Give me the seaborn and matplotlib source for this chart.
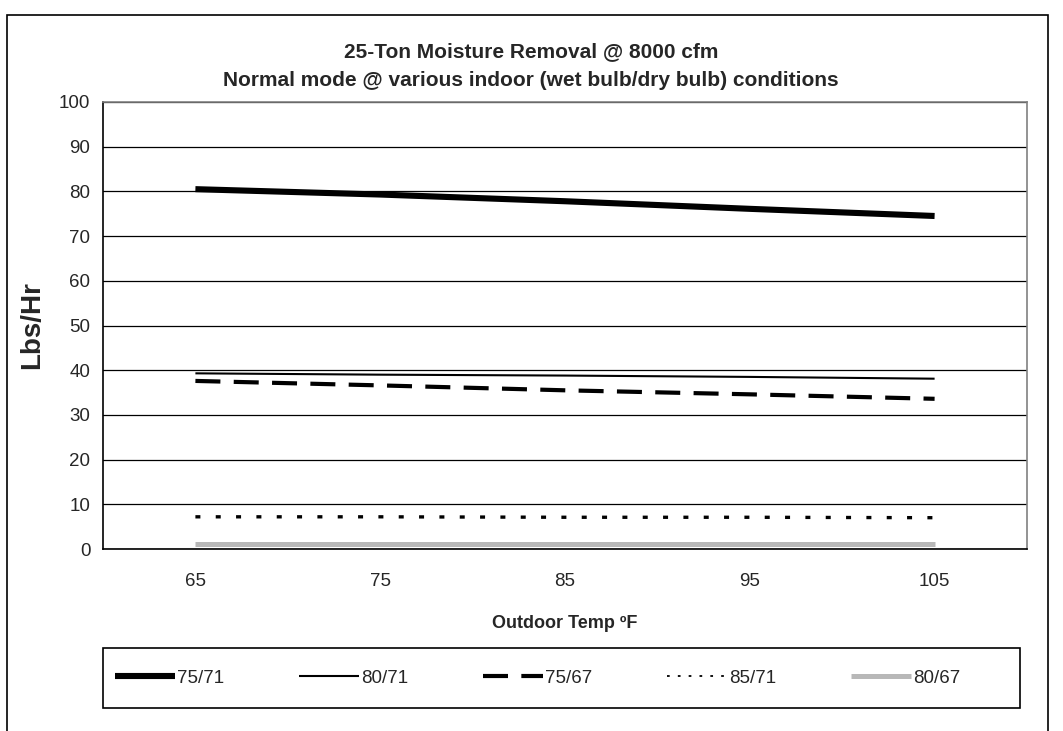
import matplotlib
matplotlib.use("Agg")
import matplotlib.pyplot as plt
import matplotlib.patches as mpatches
import numpy as np
import pandas as pd
import seaborn as sns

# Outdoor temperatures (category axis)
outdoor_temp = ["65", "75", "85", "95", "105"]

# Moisture removal (lbs/hr) per indoor condition (wet bulb / dry bulb)
rh_75_71 = [80.5, 79.3, 77.8, 76.1, 74.5]
rh_80_71 = [39.3, 39.0, 38.8, 38.5, 38.1]
rh_75_67 = [37.6, 36.6, 35.5, 34.6, 33.6]
rh_85_71 = [7.2, 7.2, 7.1, 7.1, 7.0]
rh_80_67 = [1.1, 1.1, 1.1, 1.1, 1.1]

series_names = ["75/71", "80/71", "75/67", "85/71", "80/67"]
series_values = [rh_75_71, rh_80_71, rh_75_67, rh_85_71, rh_80_67]

styles = {
    "75/71": dict(color="black", lw=4.4, ls="-"),
    "80/71": dict(color="black", lw=1.5, ls="-"),
    "75/67": dict(color="black", lw=3.0, ls=(0, (6.0, 3.2))),
    "85/71": dict(color="black", lw=2.4, ls=(0, (1.5, 4.6))),
    "80/67": dict(color="#b8b8b8", lw=3.6, ls="-"),
}

sns.set_theme(style="white")
plt.rcParams["font.family"] = ["Liberation Sans", "DejaVu Sans"]

W, H = 1063, 731
fig = plt.figure(figsize=(W / 100, H / 100), dpi=100)
ax = fig.add_axes([103 / W, 1 - 549 / H, (1027 - 103) / W, (549 - 102) / H])

pos = np.arange(len(outdoor_temp))
for name, vals in zip(series_names, series_values):
    df = pd.DataFrame({"pos": pos, "val": vals})
    st = styles[name]
    sns.lineplot(data=df, x="pos", y="val", ax=ax, color=st["color"],
                 linewidth=st["lw"], linestyle=st["ls"], label=name,
                 legend=False, solid_capstyle="butt", dash_capstyle="butt")

ax.set_xlim(-0.5, len(outdoor_temp) - 0.5)
ax.set_ylim(0, 100)
ax.set_yticks(np.arange(0, 101, 10))
ax.yaxis.grid(True, color="black", linewidth=0.9)
ax.xaxis.grid(False)

# Category labels centred, tick marks on category boundaries
ax.set_xticks(pos)
ax.set_xticklabels(outdoor_temp, fontsize=13.5)
ax.tick_params(axis="x", which="major", length=0, pad=17)
ax.set_xticks(np.arange(-0.5, len(outdoor_temp)), minor=True)
ax.tick_params(axis="x", which="minor", length=6, width=1, color="black", direction="out")
ax.tick_params(axis="y", length=5, width=1, color="black", direction="out", labelsize=13.5, pad=4)

for side in ["left", "bottom"]:
    ax.spines[side].set_color("black")
    ax.spines[side].set_linewidth(1.2)
for side in ["top", "right"]:
    ax.spines[side].set_color("#808080")
    ax.spines[side].set_linewidth(1.2)

ax.set_xlabel("Outdoor Temp ºF", fontsize=13, fontweight="bold", labelpad=18)
ax.set_ylabel("Lbs/Hr", fontsize=20, fontweight="bold", labelpad=10)

fig.text(531 / W, 1 - 52 / H, "25-Ton Moisture Removal @ 8000 cfm",
         ha="center", va="center", fontsize=15, fontweight="bold")
fig.text(531 / W, 1 - 81 / H, "Normal mode @ various indoor (wet bulb/dry bulb) conditions",
         ha="center", va="center", fontsize=15, fontweight="bold")

# Legend box
fig.patches.append(mpatches.Rectangle((103 / W, 1 - 708 / H), (1020 - 103) / W, 60 / H,
                                      transform=fig.transFigure, fill=False,
                                      edgecolor="black", linewidth=1.2))
handles, labels = ax.get_legend_handles_labels()
leg = fig.legend(handles, labels, ncol=5, loc="center left",
                 bbox_to_anchor=(115 / W, 1 - 678 / H), fontsize=13.5,
                 handlelength=3.2, handletextpad=0.1, columnspacing=4.0,
                 frameon=False, borderpad=0, borderaxespad=0)
# the dotted series uses a finer dot in the legend key
dot_key = leg.get_lines()[3]
dot_key.set_linewidth(1.3)
dot_key.set_linestyle((0, (1.5, 4.5)))

# Outer chart border
fig.patches.append(mpatches.Rectangle((7 / W, -0.02), (1048 - 7) / W, 1.02 - 15 / H,
                                      transform=fig.transFigure, fill=False,
                                      edgecolor="black", linewidth=1.2))

fig.savefig("out.png", dpi=100)
